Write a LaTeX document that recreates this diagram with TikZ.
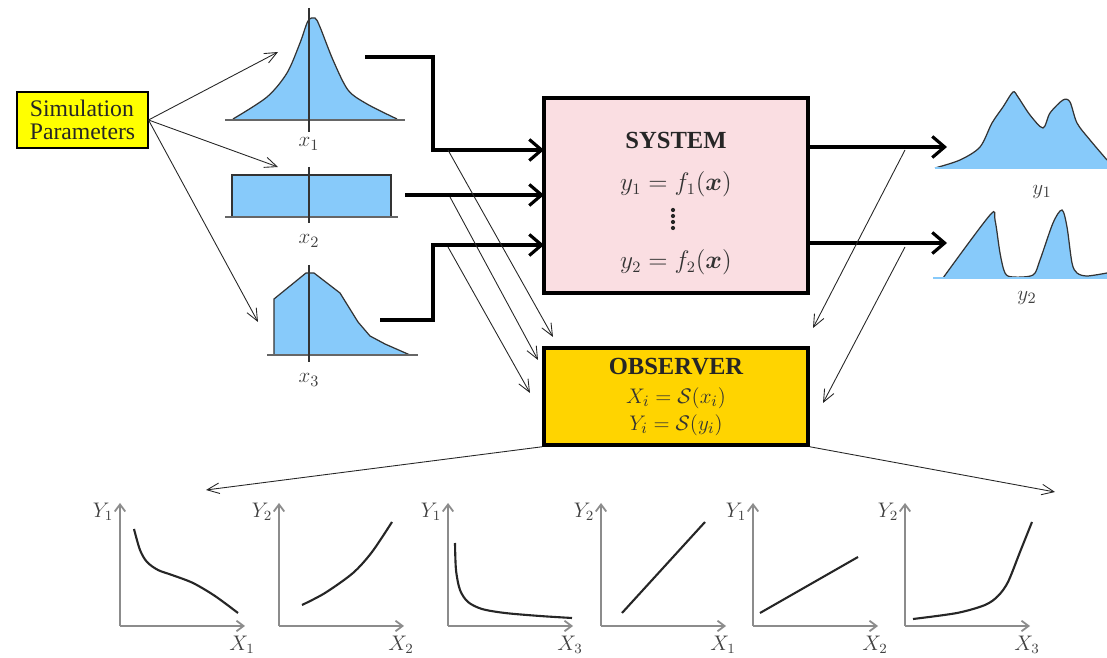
\documentclass[tikz,border=0pt]{standalone}
\usepackage{amsmath}
\usepackage{amsbsy}
\usepackage{fontspec}
\setmainfont{Liberation Serif}
\usetikzlibrary{arrows.meta}
\definecolor{distblue}{RGB}{135,202,250}
\definecolor{syspink}{RGB}{250,222,226}
\definecolor{obsgold}{RGB}{255,212,0}
\definecolor{simyellow}{RGB}{255,255,0}
\definecolor{axisgray}{RGB}{140,140,140}
\begin{document}
\begin{tikzpicture}[x=0.02cm,y=-0.02cm,
  thinarrow/.style={-{Straight Barb[length=7pt,width=6pt]}, line width=0.5pt, black!85},
  thickarrow/.style={-{Straight Barb[length=7pt,width=12pt]}, line width=1.8pt},
  dist/.style={draw=black!80, line width=0.7pt, fill=distblue},
  base/.style={draw=black!60, line width=0.7pt},
  axisv/.style={draw=black!80, line width=0.6pt},
  lab/.style={inner sep=0pt, font=\fontsize{13}{15}\selectfont, text=black!75},
  plab/.style={inner sep=0pt, font=\fontsize{12}{14}\selectfont, text=black!75},
  plotaxis/.style={draw=axisgray, line width=1pt, -{Straight Barb[length=4pt,width=6pt]}},
  curve/.style={line width=1.2pt, black!85},
  bigbox/.style={draw, line width=2pt, minimum width=5.28cm, inner sep=0pt},
  btext/.style={inner sep=0pt, font=\fontsize{14}{16}\selectfont\bfseries, text=black!85},
  mtext/.style={inner sep=0pt, font=\fontsize{13.5}{15}\selectfont, text=black!80},
  otext/.style={inner sep=0pt, font=\fontsize{12.5}{14}\selectfont, text=black!80}
]
\useasboundingbox (0,0) rectangle (1107,658);

% Simulation parameters
\node[draw, fill=simyellow, line width=0.6pt, minimum width=2.62cm, minimum height=1.12cm,
      align=left, inner sep=2pt, font=\fontsize{13.5}{13}\selectfont, text=black!85] (sim) at (82.5,120) {Simulation\\Parameters};

% input distributions
\coordinate (d1) at (278,52);
\coordinate (d2) at (278,167);
\coordinate (d3) at (258,322);
\draw[thinarrow] (sim.east) -- (d1);
\draw[thinarrow] (sim.east) -- (d2);
\draw[thinarrow] (sim.east) -- (d3);

% x1
\fill[distblue] plot[smooth] coordinates {(233,119) (267,97) (287,73) (300,43) (308,21) (315,18) (320,27) (333,60) (348,90) (367,104) (397,119)} -- cycle;
\draw[black!80, line width=0.7pt] plot[smooth] coordinates {(233,119) (267,97) (287,73) (300,43) (308,21) (315,18) (320,27) (333,60) (348,90) (367,104) (397,119)};
\draw[base] (225,120) -- (405,120);
\draw[axisv] (309,8) -- (309,132);
\node[lab] (lx1) at (309,144) {$x_1$};

% x2
\draw[dist] (232,217) rectangle (391,175);
\draw[base] (225,217) -- (398,217);
\draw[axisv] (309,167) -- (309,223);
\node[lab] (lx2) at (309,241) {$x_2$};

% x3
\draw[dist] (274,355) -- (274,299) -- (306,273) -- (314,273) -- (340,293) -- (358,322) -- (370,336) -- (385,344) -- (410,355);
\draw[base] (267,355) -- (418,355);
\draw[axisv] (309,265) -- (309,362);
\node[lab] (lx3) at (309,380) {$x_3$};

% SYSTEM
\node[bigbox, fill=syspink, minimum height=3.9cm] (sys) at (676,195.5) {};
\node[btext] (systitle) at (676,140) {SYSTEM};
\node[mtext] (eq1) at (676,184) {$y_1 = f_1(\boldsymbol{x})$};
\foreach \yy in {210,216,222,228} \fill[black!85] (673,\yy) circle (1.2pt);
\node[mtext] (eq2) at (676,262) {$y_2 = f_2(\boldsymbol{x})$};

% OBSERVER
\node[bigbox, fill=obsgold, minimum height=1.94cm] (obs) at (676,396.5) {};
\node[btext] (obstitle) at (676,367) {OBSERVER};
\node[otext] (oeq1) at (676,398) {$X_i = \mathcal{S}(x_i)$};
\node[otext] (oeq2) at (676,425) {$Y_i = \mathcal{S}(y_i)$};

% thick input connectors
\coordinate (s1) at (365,57);
\coordinate (s2) at (405,195);
\coordinate (s3) at (380,320);
\coordinate (k1) at (433,57);
\coordinate (k3) at (433,320);
\coordinate (in1) at (544,150);
\coordinate (in2) at (544,195);
\coordinate (in3) at (544,245);
\draw[thickarrow] (s1) -- (k1) |- (in1);
\draw[thickarrow] (s2) -- (in2);
\draw[thickarrow] (s3) -- (k3) |- (in3);

% thin to observer from inputs
\coordinate (a1) at (448,150);
\coordinate (a2) at (450,197);
\coordinate (a3) at (448,247);
\coordinate (e1) at (553,337);
\coordinate (e2) at (538,360);
\coordinate (e3) at (530,393);
\draw[thinarrow] (a1) -- (e1);
\draw[thinarrow] (a2) -- (e2);
\draw[thinarrow] (a3) -- (e3);

% outputs
\coordinate (o1) at (809,147);
\coordinate (o2) at (809,243);
\coordinate (p1) at (947,147);
\coordinate (p2) at (947,243);
\draw[thickarrow] (o1) -- (p1);
\draw[thickarrow] (o2) -- (p2);
\coordinate (b1) at (905,150);
\coordinate (b2) at (905,247);
\coordinate (f1) at (813,328);
\coordinate (f2) at (823,403);
\draw[thinarrow] (b1) -- (f1);
\draw[thinarrow] (b2) -- (f2);

% y1 output
\fill[distblue] plot[smooth] coordinates {(935,168) (960,160) (980,147) (992,123) (1003,107) (1013,92) (1018,97) (1030,115) (1043,128) (1050,113) (1063,100) (1070,102) (1077,123) (1090,140) (1107,160)} -- (1107,168) -- cycle;
\draw[black!80, line width=0.7pt] plot[smooth] coordinates {(935,168) (960,160) (980,147) (992,123) (1003,107) (1013,92) (1018,97) (1030,115) (1043,128) (1050,113) (1063,100) (1070,102) (1077,123) (1090,140) (1107,160)};
\draw[distblue, line width=1pt] (935,168) -- (1107,168);
\node[lab] (ly1) at (1042,192) {$y_1$};

% y2 output
\fill[distblue] plot[smooth] coordinates {(943,278) (990,215) (995,220) (1000,253) (1005,273) (1013,277) (1033,275) (1040,260) (1053,223) (1062,210) (1067,227) (1072,263) (1077,273) (1087,276) (1107,273)} -- (1107,278) -- cycle;
\draw[black!80, line width=0.7pt] plot[smooth] coordinates {(943,278) (990,215) (995,220) (1000,253) (1005,273) (1013,277) (1033,275) (1040,260) (1053,223) (1062,210) (1067,227) (1072,263) (1077,273) (1087,276) (1107,273)};
\draw[distblue, line width=1pt] (933,278) -- (1107,278);
\node[lab] (ly2) at (1027,298) {$y_2$};

% observer outputs
\coordinate (g1) at (206,490);
\coordinate (g2) at (1055,492);
\draw[thinarrow] (obs.south west) -- (g1);
\draw[thinarrow] (obs.south east) -- (g2);

% bottom plots
\newcommand{\smallplot}[5]{%
  \coordinate (o#1) at (#2,626);
  \draw[plotaxis] (o#1) -- ++(0,-123);
  \draw[plotaxis] (o#1) -- ++(125,0);
  \node[plab] (py#1) at (#2-17,512) {$#3$};
  \node[plab] (px#1) at (#2+122,645) {$#4$};
}
\smallplot{A}{120}{Y_1}{X_1}{}
\smallplot{B}{279}{Y_2}{X_2}{}
\smallplot{C}{448}{Y_1}{X_3}{}
\smallplot{D}{601}{Y_2}{X_1}{}
\smallplot{E}{753}{Y_1}{X_2}{}
\smallplot{F}{905}{Y_2}{X_3}{}

\draw[curve] plot[smooth] coordinates {(134,529) (140,550) (147,562) (158,570) (172,575) (193,583) (215,596) (238,613)};
\draw[curve] plot[smooth] coordinates {(302,605) (325,593) (353,573) (372,552) (392,522)};
\draw[curve] plot[smooth] coordinates {(455,543) (456,570) (460,590) (468,602) (482,609) (505,613) (540,616) (572,618)};
\draw[curve] (622,613) -- (705,522);
\draw[curve] (760,613) -- (858,557);
\draw[curve] plot[smooth] coordinates {(913,619) (957,613) (985,605) (998,596) (1008,582) (1020,552) (1032,522)};
\end{tikzpicture}
\end{document}
